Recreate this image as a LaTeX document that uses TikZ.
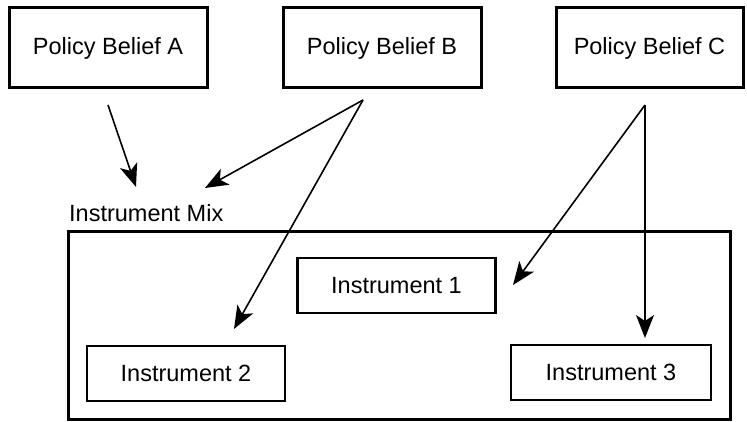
\documentclass[tikz,border=0pt]{standalone}
\usepackage{fontspec}
\setmainfont{Liberation Sans}
\usetikzlibrary{arrows.meta}
\begin{document}
\begin{tikzpicture}[x=1pt,y=-1pt,
  belief/.style={draw,line width=3pt,minimum width=198pt,minimum height=80pt,inner sep=0pt,font=\fontsize{23.5}{27}\selectfont},
  instr/.style={draw,line width=2.6pt,minimum width=198pt,minimum height=55pt,inner sep=0pt,font=\fontsize{23.5}{27}\selectfont},
  mixbox/.style={draw,line width=3pt,minimum width=662pt,minimum height=187pt,inner sep=0pt},
  arr/.style={line width=1.6pt,-{Stealth[length=23pt,width=18pt,inset=6pt]}}]
\useasboundingbox (0,0) rectangle (747,422);
\node[belief] (A) at (108,48) {Policy Belief A};
\node[belief] (B) at (382,48) {Policy Belief B};
\node[belief,minimum width=187pt] (C) at (649.5,48) {Policy Belief C};
\node[mixbox] (mix) at (399,325.5) {};
\node[anchor=base west,inner sep=0pt,font=\fontsize{23.5}{27}\selectfont] (mixlabel) at (69,222) {Instrument Mix};
\node[instr] (i1) at (396.5,285.5) {Instrument 1};
\node[instr] (i2) at (186,373.5) {Instrument 2};
\node[instr,minimum width=200pt] (i3) at (611,372.5) {Instrument 3};
\coordinate (aS) at (108,105);
\coordinate (aE) at (136,187);
\coordinate (bS) at (363,100);
\coordinate (bE1) at (205,188);
\coordinate (bE2) at (234,329);
\coordinate (cS) at (645,105);
\coordinate (cE1) at (513,285);
\coordinate (cE2) at (645,338);
\draw[arr] (aS) -- (aE);
\draw[arr] (bS) -- (bE1);
\draw[arr] (bS) -- (bE2);
\draw[arr] (cS) -- (cE1);
\draw[arr] (cS) -- (cE2);
\end{tikzpicture}
\end{document}
